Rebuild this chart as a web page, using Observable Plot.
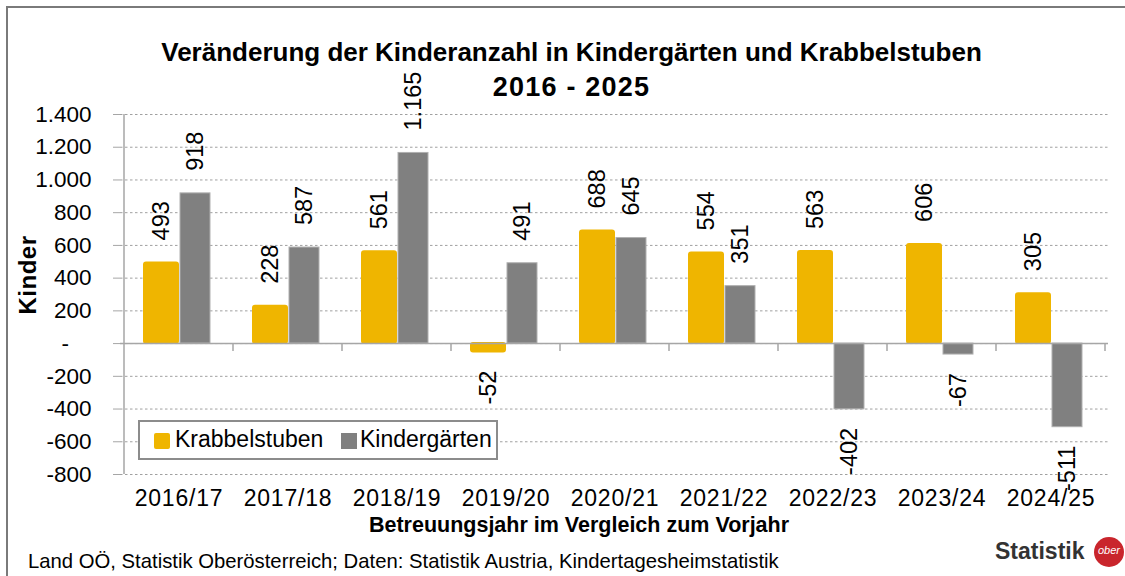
<!DOCTYPE html>
<html><head><meta charset="utf-8">
<script src="https://cdn.jsdelivr.net/npm/d3@7"></script>
<script src="https://cdn.jsdelivr.net/npm/@observablehq/plot@0.6"></script>
<style>
body{margin:0;background:#fff;font-family:"Liberation Sans",Arial,sans-serif;}
#wrap{position:relative;width:1125px;height:576px;overflow:hidden;background:#fff;}
#wrap svg{position:absolute;left:0;top:0;}
#frame{position:absolute;left:6px;top:6px;width:1200px;height:700px;border-left:2px solid #7a7a7a;border-top:2px solid #7a7a7a;}
.t{position:absolute;color:#000;white-space:nowrap;}
#title{left:0;width:1143px;top:35px;text-align:center;font-weight:bold;font-size:26px;line-height:35px;}
#title .l2{font-size:27px;letter-spacing:1.2px;}
#xtitle{left:0;width:1158px;top:513px;text-align:center;font-weight:bold;font-size:21.5px;}
#ytitle{left:28px;top:275px;font-weight:bold;font-size:24px;letter-spacing:0.5px;transform:translate(-50%,-50%) rotate(-90deg);}
#caption{left:28px;top:550px;font-size:20.3px;}
#legend{position:absolute;left:138px;top:420px;width:356px;height:36px;border:2px solid #8c8c8c;background:#fff;font-size:23px;}
.sw{position:absolute;top:11px;width:16px;height:16px;}
.lt{position:absolute;top:5px;line-height:24px;}
#logo{left:995px;top:538px;font-weight:bold;font-size:23px;color:#333;}
#logoc{position:absolute;left:1094px;top:537px;width:30px;height:30px;border-radius:50%;background:#c9252c;color:#fff;font-size:11px;font-style:italic;text-align:center;line-height:26px;}
g[aria-label="x-axis tick label"] text{letter-spacing:0.8px;}
</style></head>
<body><div id="wrap"></div>
<script>
const years = ["2016/17","2017/18","2018/19","2019/20","2020/21","2021/22","2022/23","2023/24","2024/25"];
const krabbelstuben = [493,228,561,-52,688,554,563,606,305];
const kindergaerten = [918,587,1165,491,645,351,-402,-67,-511];
const yTicks = [-800,-600,-400,-200,0,200,400,600,800,1000,1200,1400];
const seriesNames = ["Krabbelstuben","Kindergärten"];
const colors = ["#EFB500","#808080"];
const titleLines = ["Veränderung der Kinderanzahl in Kindergärten und Krabbelstuben","2016 - 2025"];
const xTitle = "Betreuungsjahr im Vergleich zum Vorjahr";
const yTitle = "Kinder";
const caption = "Land OÖ, Statistik Oberösterreich; Daten: Statistik Austria, Kindertagesheimstatistik";

const loc = d3.formatLocale({decimal:",",thousands:".",grouping:[3],currency:["","€"],minus:"-"});
const fmt = loc.format(",d");
const tickFmt = d => d === 0 ? "-\u2003" : fmt(d);

const kr = years.map((y,i)=>({year:y, v:krabbelstuben[i]}));
const kg = years.map((y,i)=>({year:y, v:kindergaerten[i]}));

// styling offsets (pixels within a category band)
const KR_L = 20, KR_R = 55, KG_L = 56, KG_R = 23;

const sepTicks = (index, scales) => {
  const g = d3.create("svg:g");
  const y0 = scales.y(0);
  const bw = scales.x.bandwidth();
  years.forEach(yr => {
    const xe = scales.x(yr) + bw;
    g.append("line").attr("x1",xe).attr("x2",xe).attr("y1",y0).attr("y2",y0+8)
     .attr("stroke","#a6a6a6").attr("stroke-width",1.5);
  });
  return g.node();
};

const valueLabels = (rows, left, right) => (index, scales) => {
  const g = d3.create("svg:g").attr("font-size",23.5).attr("fill","#000");
  const bw = scales.x.bandwidth();
  rows.forEach(d => {
    const cx = scales.x(d.year) + left + (bw - left - right)/2;
    const pos = d.v >= 0;
    const yy = scales.y(d.v) + (pos ? -22 : 19);
    g.append("text")
      .attr("transform", `translate(${cx},${yy}) rotate(-90)`)
      .attr("text-anchor", pos ? "start" : "end")
      .attr("dy","0.35em")
      .text(fmt(d.v));
  });
  return g.node();
};

const plot = Plot.plot({
  width:1125, height:576,
  marginTop:114, marginBottom:102, marginLeft:120, marginRight:17,
  style:{fontFamily:"Liberation Sans, Arial, sans-serif", background:"transparent", overflow:"visible"},
  x:{type:"band", domain:years, padding:0},
  y:{domain:[-800,1400]},
  marks:[
    Plot.gridY(yTicks,{stroke:"#a0a0a0", strokeOpacity:1, strokeDasharray:"2.5,2.5", strokeWidth:1}),
    Plot.axisY(yTicks,{tickFormat:tickFmt, tickSize:7, tickPadding:22, fontSize:22.5, stroke:"#a6a6a6", strokeOpacity:1, label:null, color:"#000"}),
    Plot.axisX({tickSize:0, tickPadding:15, fontSize:23, label:null, color:"#000"}),
    Plot.barY(kr,{x:"year", y:"v", fill:colors[0], stroke:colors[0], strokeWidth:2, insetLeft:KR_L, insetRight:KR_R, rx:2}),
    Plot.barY(kg,{x:"year", y:"v", fill:colors[1], stroke:"#b0b0b0", strokeWidth:1, insetLeft:KG_L, insetRight:KG_R}),
    Plot.ruleY([0],{stroke:"#a6a6a6", strokeWidth:1.5}),
    Plot.ruleX([years[0]],{y1:-800, y2:1400, stroke:"#a6a6a6", strokeWidth:1.5, dx:-55}),
    sepTicks,
    valueLabels(kr, KR_L, KR_R),
    valueLabels(kg, KG_L, KG_R)
  ]
});
const wrap = document.getElementById("wrap");
wrap.appendChild(plot);

function add(html){ wrap.insertAdjacentHTML("beforeend", html); }
add(`<div id="frame"></div>`);
add(`<div class="t" id="title">${titleLines[0]}<br><span class="l2">${titleLines[1]}</span></div>`);
add(`<div class="t" id="ytitle">${yTitle}</div>`);
add(`<div class="t" id="xtitle">${xTitle}</div>`);
add(`<div class="t" id="caption">${caption}</div>`);
add(`<div id="legend">
  <div class="sw" style="left:14px;background:${colors[0]};border-radius:2px"></div><div class="lt" style="left:35px">${seriesNames[0]}</div>
  <div class="sw" style="left:201px;background:${colors[1]}"></div><div class="lt" style="left:220px">${seriesNames[1]}</div>
</div>`);
add(`<div class="t" id="logo">Statistik</div>`);
add(`<div id="logoc">ober</div>`);
</script></body></html>
